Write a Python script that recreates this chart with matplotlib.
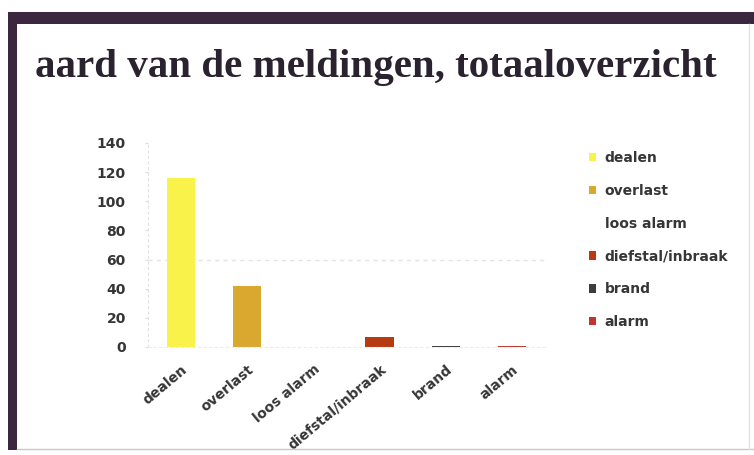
import matplotlib
matplotlib.use("Agg")
import matplotlib.pyplot as plt
from matplotlib.patches import Rectangle
from matplotlib.lines import Line2D

categories = ["dealen", "overlast", "loos alarm", "diefstal/inbraak", "brand", "alarm"]
values = [116, 42, 0, 7, 1, 1]
colors = ["#F8F24A", "#D9A82E", "#FFFFFF", "#B63A12", "#3E3A3E", "#C0362E"]
yticks = [0, 20, 40, 60, 80, 100, 120, 140]
title = "aard van de meldingen, totaaloverzicht"

W, H = 754, 455
fig = plt.figure(figsize=(W / 100, H / 100), dpi=100)
fig.patch.set_facecolor("white")

def fx(px):
    return px / W

def fy(py):
    return 1 - py / H

# slide frame: thick purple bars on top and left, thin grey at bottom/right
frame = "#3B2840"
fig.add_artist(Rectangle((fx(8), fy(24)), fx(754 - 8), 12 / H, transform=fig.transFigure,
                         facecolor=frame, edgecolor="none"))
fig.add_artist(Rectangle((fx(8), fy(450)), fx(9), (450 - 12) / H, transform=fig.transFigure,
                         facecolor=frame, edgecolor="none"))
fig.add_artist(Line2D([fx(17), fx(754)], [fy(449), fy(449)], transform=fig.transFigure,
                      color="#c8c8c8", lw=1))
fig.add_artist(Line2D([fx(749), fx(749)], [fy(24), fy(449)], transform=fig.transFigure,
                      color="#e2e2e2", lw=1))

fig.text(fx(35), fy(67), title, fontsize=29.5, fontweight="bold", family="Liberation Serif",
         color="#2B2230", ha="left", va="center")

ax = fig.add_axes([fx(148), fy(347), fx(545 - 148), (347 - 143) / H])
bars = ax.bar(range(len(categories)), values, width=0.43, color=colors, edgecolor="none")
ax.set_xlim(-0.5, len(categories) - 0.5)
ax.set_ylim(0, 140)
ax.set_yticks(yticks)
ax.set_yticklabels([str(v) for v in yticks])
ax.set_xticks(range(len(categories)))
ax.set_xticklabels(categories, rotation=40, ha="right", rotation_mode="anchor")
ax.tick_params(axis="y", length=2, color="#dddddd", pad=14, labelsize=10, labelcolor="#363636")
ax.tick_params(axis="x", length=0, pad=11, labelsize=10, labelcolor="#363636")
for lab in ax.get_xticklabels() + ax.get_yticklabels():
    lab.set_family("DejaVu Sans")
    lab.set_fontweight("bold")
ax.axhline(60, color="#e4e4e4", lw=1, ls=(0, (3, 3)), zorder=0)
for s in ["top", "right"]:
    ax.spines[s].set_visible(False)
ax.spines["left"].set_color("#e2e2e2")
ax.spines["left"].set_linestyle((0, (2, 3)))
ax.spines["bottom"].set_color("#ececec")
ax.spines["bottom"].set_linestyle((0, (2, 3)))
ax.set_facecolor("none")

leg = fig.legend(bars, categories, loc="upper left", bbox_to_anchor=(fx(586), fy(148)),
                 frameon=False, handlelength=0.55, handleheight=0.55, handletextpad=0.6,
                 labelspacing=1.36, borderaxespad=0, borderpad=0.2,
                 prop={"family": "DejaVu Sans", "size": 10, "weight": "bold"})
for t in leg.get_texts():
    t.set_color("#363636")

fig.savefig("out.png", dpi=100)
